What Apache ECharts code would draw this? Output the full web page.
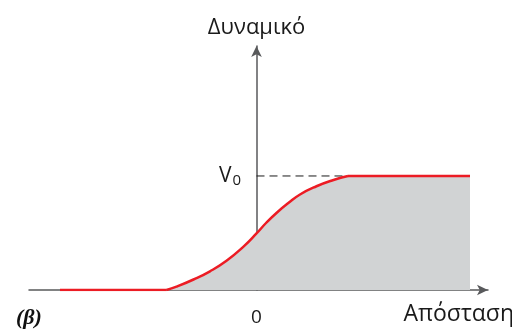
<!DOCTYPE html>
<html>
<head>
<meta charset="utf-8">
<style>
  html, body { margin: 0; padding: 0; background: #fff; }
  #chart { width: 512px; height: 329px; }
</style>
<script src="https://cdn.jsdelivr.net/npm/echarts@6/dist/echarts.min.js"></script>
</head>
<body>
<div id="chart"></div>
<script>
// Potential V versus distance: zero far to the left, rising smoothly to V0, then constant.
const leftFlat = [[-3.93, 0], [-1.80, 0]];
const riseX = [-1.80, -1.60, -1.26, -0.93, -0.60, -0.26, 0, 0.20, 0.41, 0.63, 0.87, 1.20, 1.54, 1.83];
const riseV = [0, 0.029, 0.092, 0.164, 0.256, 0.38, 0.496, 0.592, 0.68, 0.76, 0.838, 0.91, 0.965, 1.0];
const rightFlat = [[1.83, 1.0], [4.27, 1.0]];
const v0Guide = [[0, 1.0], [1.83, 1.0]];
const xTickValues = [0];

const rise = riseX.map((x, i) => [x, riseV[i]]);

const RED = '#ec1c24';
const FILL = '#d1d3d4';
const AXIS = '#58595b';
const INK = '#1a1a1a';
const FONT = '"Open Sans", "Noto Sans", sans-serif';

const chart = echarts.init(document.getElementById('chart'), null, { renderer: 'canvas' });

chart.setOption({
  animation: false,
  backgroundColor: '#fff',
  grid: { left: 29, right: 24, top: 46, bottom: 39, outerBoundsMode: 'none' },
  title: {
    text: '(β)',
    left: 11, top: 302,
    textStyle: { fontFamily: '"Liberation Serif", serif', fontStyle: 'italic', fontWeight: 'bold', fontSize: 22, color: '#111' }
  },
  xAxis: {
    type: 'value', min: -4.55, max: 4.63,
    splitLine: { show: false },
    axisTick: { show: false },
    axisLine: { onZero: true, lineStyle: { color: AXIS, width: 1.5 }, symbol: ['none', 'arrow'], symbolSize: [8, 11] },
    axisLabel: { customValues: xTickValues, formatter: v => String(v), margin: 18, color: INK, fontFamily: FONT, fontSize: 19 },
    name: 'Απόσταση',
    nameLocation: 'end',
    nameGap: 0,
    nameTextStyle: { fontFamily: FONT, fontSize: 23, color: INK, align: 'right', verticalAlign: 'top', padding: [13, -26, 0, 0] }
  },
  yAxis: {
    type: 'value', min: 0, max: 2.14,
    splitLine: { show: false },
    axisTick: { show: false },
    axisLabel: { show: false },
    axisLine: { onZero: true, lineStyle: { color: AXIS, width: 1.5 }, symbol: ['none', 'arrow'], symbolSize: [8, 11] },
    name: 'Δυναμικό',
    nameLocation: 'end',
    nameGap: 7,
    nameTextStyle: { fontFamily: FONT, fontSize: 22, color: INK }
  },
  series: [
    {
      type: 'line', data: v0Guide, silent: true, z: 1,
      symbol: 'circle', symbolSize: 1,
      itemStyle: { color: 'rgba(0,0,0,0)', borderWidth: 0 },
      lineStyle: { color: INK, width: 1, type: [8, 5] },
      label: {
        show: true,
        position: 'left',
        distance: 15,
        formatter: p => (p.dataIndex === 0 ? '{v|V}{s|0}' : ''),
        rich: {
          v: { fontFamily: FONT, fontSize: 21, color: INK, lineHeight: 24 },
          s: { fontFamily: FONT, fontSize: 15, color: INK, lineHeight: 24, padding: [10, 0, 0, 1] }
        }
      }
    },
    {
      type: 'line', data: rise, symbol: 'none', smooth: 0.5, z: 3,
      lineStyle: { color: RED, width: 2.5, join: 'round' },
      areaStyle: { color: FILL, opacity: 1, origin: 'start' }
    },
    {
      type: 'line', data: rightFlat, symbol: 'none', z: 3,
      lineStyle: { color: RED, width: 2.5 },
      areaStyle: { color: FILL, opacity: 1, origin: 'start' }
    },
    {
      type: 'line', data: leftFlat, symbol: 'none', z: 3,
      lineStyle: { color: RED, width: 2.5 }
    }
  ]
});
</script>
</body>
</html>
